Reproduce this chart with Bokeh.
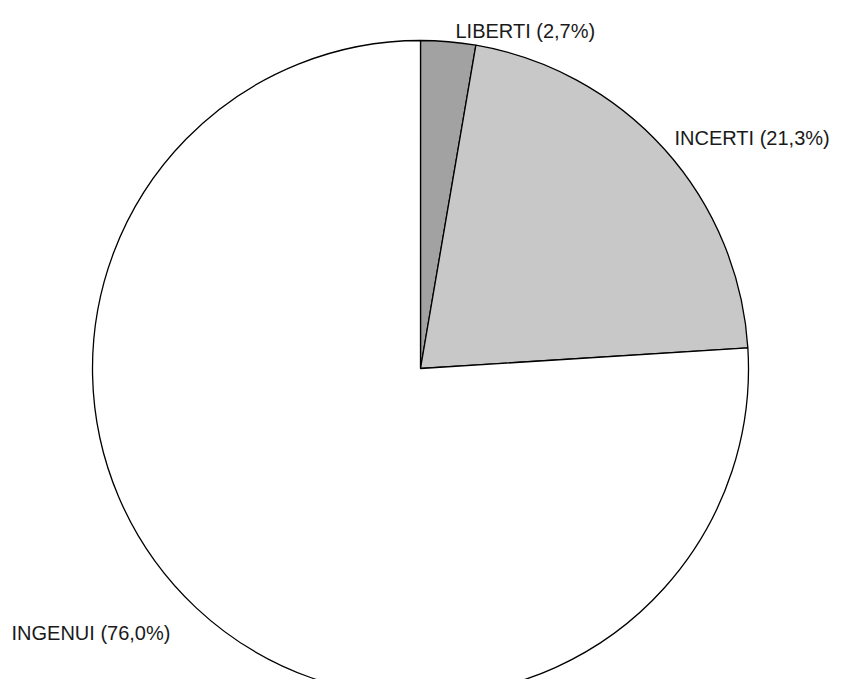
import math
from bokeh.plotting import figure
from bokeh.models import Range1d, ColumnDataSource
from bokeh.core.properties import value
from bokeh.embed import file_html
from bokeh.resources import INLINE

# data
categories = ["LIBERTI", "INCERTI", "INGENUI"]
percentages = [2.7, 21.3, 76.0]
label_texts = ["LIBERTI (2,7%)", "INCERTI (21,3%)", "INGENUI (76,0%)"]

# styles / layout (kept apart from data)
fills = ["#a2a2a2", "#c8c8c8", "#ffffff"]
W, H = 831, 679
IMG_H = 695
cx, cy, r = 420, IMG_H - 368, 328
label_pos = [(455, IMG_H - 30), (674, IMG_H - 137), (11, IMG_H - 632)]

total = sum(percentages)
starts, ends = [], []
acc = 0.0
for v in percentages:
    a0 = math.pi / 2 - 2 * math.pi * acc / total
    acc += v
    a1 = math.pi / 2 - 2 * math.pi * acc / total
    starts.append(a0)
    ends.append(a1)

src = ColumnDataSource(dict(cat=categories, start=starts, end=ends, fill=fills))

p = figure(width=W, height=H, output_backend="svg", toolbar_location=None,
           x_range=Range1d(0, W), y_range=Range1d(IMG_H - H, IMG_H),
           min_border=0, outline_line_color=None)
p.axis.visible = False
p.grid.visible = False
p.background_fill_color = "white"

p.wedge(x=cx, y=cy, radius=r, start_angle="start", end_angle="end", direction="clock",
        fill_color="fill", line_color="black", line_width=1.3, source=src)

lx = [lp[0] for lp in label_pos]
ly = [lp[1] for lp in label_pos]
p.text(x=lx, y=ly, text=label_texts, text_font=value("Liberation Sans"),
       text_font_size="20px", text_color="#1a1a1a", text_align="left",
       text_baseline="alphabetic")

open("out.html", "w").write(file_html(p, INLINE))
